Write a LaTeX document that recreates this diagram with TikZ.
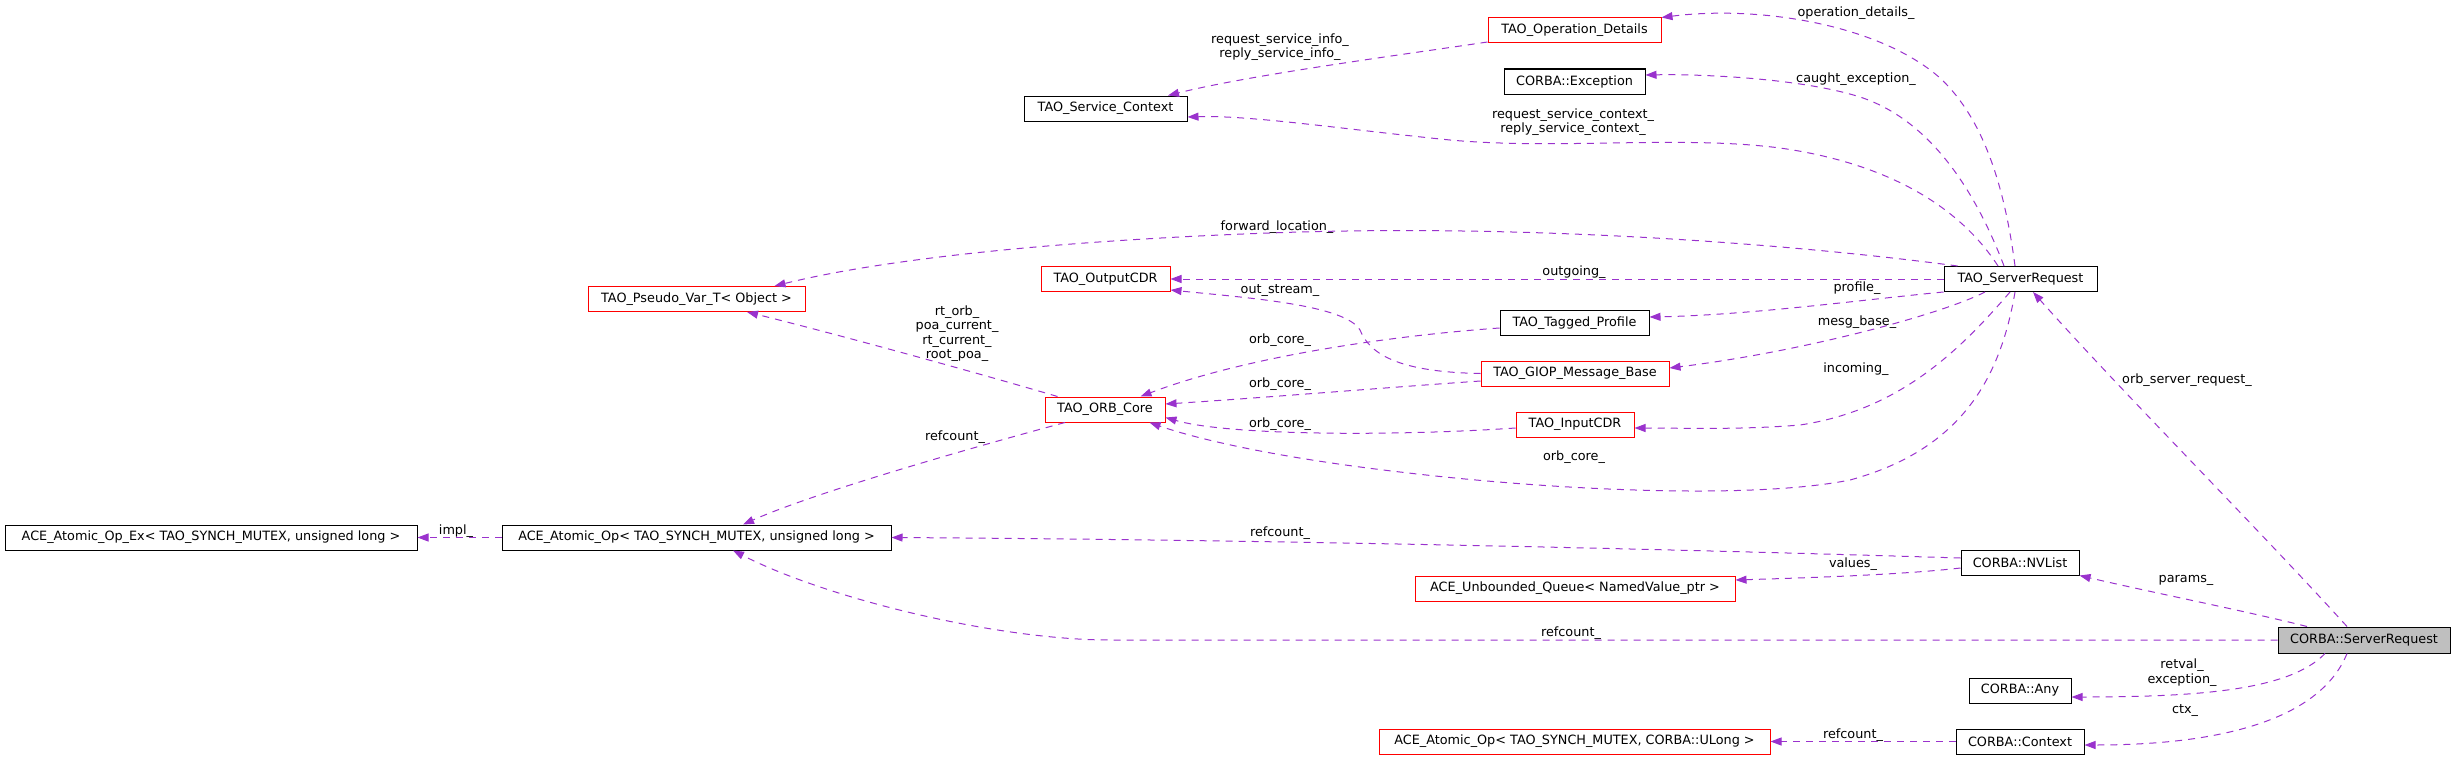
\documentclass[tikz,border=0pt]{standalone}
\usepackage{fontspec}
\setmainfont{DejaVu Sans}
\usetikzlibrary{arrows.meta}
\definecolor{edgec}{HTML}{9A32CD}
\definecolor{nodegray}{HTML}{BFBFBF}
\newcommand\dgfont{\fontsize{12.8}{14.4}\selectfont}
\begin{document}
\begin{tikzpicture}[x=1pt,y=-1pt,
  cls/.style={draw=black, line width=1pt, inner sep=0pt, minimum height=25pt, font=\dgfont},
  redcls/.style={cls, draw=red},
  rootcls/.style={cls, fill=nodegray, minimum height=26pt},
  edge/.style={draw=edgec, line width=1pt, dash pattern=on 7pt off 6pt,
    -{Triangle[length=11pt,width=8pt,fill=edgec]}},
  lab/.style={font=\dgfont, align=center, inner sep=0pt}]
\useasboundingbox (0,0) rectangle (2456,760);

% ---- nodes ----
\node[redcls, minimum width=173pt] (opdet) at (1574.5,30.5) {TAO\_Operation\_Details};
\node[cls, minimum width=141pt] (exc) at (1574.5,81.5) {CORBA::Exception};
\node[cls, minimum width=163pt] (svc) at (1105.5,108.5) {TAO\_Service\_Context};
\node[redcls, minimum width=217pt] (pseudo) at (696.5,299) {TAO\_Pseudo\_Var\_T< Object >};
\node[redcls, minimum width=129pt] (out) at (1105.5,279) {TAO\_OutputCDR};
\node[redcls, minimum width=120pt] (orb) at (1105,409.5) {TAO\_ORB\_Core};
\node[cls, minimum width=153pt] (tsr) at (2020.5,279) {TAO\_ServerRequest};
\node[cls, minimum width=149pt] (tag) at (1574.5,323) {TAO\_Tagged\_Profile};
\node[redcls, minimum width=188pt] (giop) at (1575,373.5) {TAO\_GIOP\_Message\_Base};
\node[redcls, minimum width=118pt] (in) at (1575,424.5) {TAO\_InputCDR};
\node[cls, minimum width=412pt] (aoex) at (211,537.5) {ACE\_Atomic\_Op\_Ex< TAO\_SYNCH\_MUTEX, unsigned long >};
\node[cls, minimum width=389pt] (ao) at (696.5,537.5) {ACE\_Atomic\_Op< TAO\_SYNCH\_MUTEX, unsigned long >};
\node[cls, minimum width=118pt] (nvl) at (2020,562.5) {CORBA::NVList};
\node[redcls, minimum width=320pt] (uq) at (1575,588.5) {ACE\_Unbounded\_Queue< NamedValue\_ptr >};
\node[rootcls, minimum width=172pt] (csr) at (2364,640) {CORBA::ServerRequest};
\node[cls, minimum width=102pt] (any) at (2020,690.5) {CORBA::Any};
\node[cls, minimum width=128pt] (ctx) at (2020,741.5) {CORBA::Context};
\node[redcls, minimum width=391pt] (aoul) at (1574.5,741.5) {ACE\_Atomic\_Op< TAO\_SYNCH\_MUTEX, CORBA::ULong >};

% ---- edges ----
% operation_details_
\draw[edge] ([xshift=-5.5pt]tsr.north) .. controls (2005,190) and (1985,120) .. (1940,78)
  .. controls (1880,25) and (1760,5) .. (opdet.north east);
\node[lab] (l1) at (1856,13) {operation\_details\_};
% caught_exception_
\draw[edge] ([xshift=-16.5pt]tsr.north) .. controls (1975,190) and (1930,120) .. (1860,97)
  .. controls (1800,78) and (1700,74) .. ([yshift=6.5pt]exc.east);
\node[lab] (l2) at (1856,79) {caught\_exception\_};
% request_service_context_
\draw[edge] ([xshift=-22.5pt]tsr.north) .. controls (1965,215) and (1900,165) .. (1780,148)
  .. controls (1680,135) and (1560,150) .. (1450,140)
  .. controls (1350,130) and (1250,115) .. ([yshift=-8.5pt]svc.east);
\node[lab] (l3) at (1573,122) {request\_service\_context\_\\reply\_service\_context\_};
% request_service_info_
\draw[edge] ([yshift=-11.5pt]opdet.west) .. controls (1400,55) and (1250,75) .. ([xshift=-19.5pt]svc.north east);
\node[lab] (l4) at (1280,47) {request\_service\_info\_\\reply\_service\_info\_};
% forward_location_
\draw[edge] ([xshift=14pt]tsr.north west) .. controls (1800,245) and (1550,225) .. (1300,232)
  .. controls (1100,238) and (900,255) .. ([xshift=-31pt]pseudo.north east);
\node[lab] (l5) at (1277,227) {forward\_location\_};
% outgoing_
\draw[edge] (tsr.west) -- (out.east);
\node[lab] (l6) at (1574,272) {outgoing\_};
% out_stream_
\draw[edge] (giop.west) .. controls (1400,372) and (1370,355) .. (1360,330)
  .. controls (1345,305) and (1250,298) .. ([yshift=-11pt]out.east);
\node[lab] (l7) at (1280,291) {out\_stream\_};
% profile_
\draw[edge] (tsr.south west) .. controls (1860,300) and (1750,315) .. ([yshift=6pt]tag.east);
\node[lab] (l8) at (1857,288) {profile\_};
% mesg_base_
\draw[edge] ([xshift=-35.5pt]tsr.south) .. controls (1940,315) and (1800,352) .. ([yshift=5.5pt]giop.east);
\node[lab] (l9) at (1857,322) {mesg\_base\_};
% incoming_ (tsr)
\draw[edge] ([xshift=-10.5pt]tsr.south) .. controls (1960,350) and (1900,410) .. (1800,425)
  .. controls (1740,430) and (1680,428) .. ([yshift=-3.5pt]in.east);
\node[lab] (l10) at (1856,369) {incoming\_};
% orb_core_ (tsr)
\draw[edge] ([xshift=-5.5pt]tsr.south) .. controls (2000,380) and (1960,450) .. (1850,480)
  .. controls (1750,500) and (1550,490) .. (1400,472)
  .. controls (1280,458) and (1200,440) .. ([xshift=-16pt]orb.south east);
\node[lab] (l11) at (1574,457) {orb\_core\_};
% orb_core_ (tag)
\draw[edge] ([yshift=-5pt]tag.west) .. controls (1400,335) and (1250,355) .. ([xshift=-25pt]orb.north east);
\node[lab] (l12) at (1280,340) {orb\_core\_};
% orb_core_ (giop)
\draw[edge] ([yshift=-7.5pt]giop.west) .. controls (1380,388) and (1260,398) .. ([yshift=5.5pt]orb.east);
\node[lab] (l13) at (1280,384) {orb\_core\_};
% orb_core_ (in)
\draw[edge] ([yshift=-3.5pt]in.west) .. controls (1400,436) and (1230,436) .. ([yshift=-8pt]orb.east);
\node[lab] (l14) at (1280,424) {orb\_core\_};
% rt_orb_ ...
\draw[edge] ([xshift=13pt]orb.north west) .. controls (950,365) and (820,330) .. ([xshift=50.5pt]pseudo.south);
\node[lab] (l15) at (957,333.5) {rt\_orb\_\\poa\_current\_\\rt\_current\_\\root\_poa\_};
% refcount_ (orb)
\draw[edge] ([xshift=-40pt]orb.south) .. controls (1000,440) and (820,490) .. ([xshift=46.5pt]ao.north);
\node[lab] (l16) at (955,437) {refcount\_};
% refcount_ (nvl)
\draw[edge] ([yshift=4.5pt]nvl.west) .. controls (1700,550) and (1300,540) .. (ao.east);
\node[lab] (l17) at (1280,533) {refcount\_};
% values_
\draw[edge] ([yshift=-5.5pt]nvl.west) .. controls (1900,575) and (1800,578) .. ([yshift=8.5pt]uq.east);
\node[lab] (l18) at (1853,564) {values\_};
% params_
\draw[edge] ([xshift=-57pt]csr.north) .. controls (2250,612) and (2150,592) .. (nvl.south east);
\node[lab] (l19) at (2186,580) {params\_};
% refcount_ (csr)
\draw[edge] (csr.west) -- (1110,640) .. controls (1000,640) and (830,600) .. ([xshift=36.5pt]ao.south);
\node[lab] (l20) at (1571,633) {refcount\_};
% retval_ exception_
\draw[edge] ([xshift=-39pt]csr.south) .. controls (2290,690) and (2200,697) .. ([yshift=-6.5pt]any.east);
\node[lab] (l21) at (2182,672.5) {retval\_\\exception\_};
% ctx_
\draw[edge] ([xshift=-17pt]csr.south) .. controls (2320,720) and (2220,745) .. ([yshift=-3.5pt]ctx.east);
\node[lab] (l22) at (2185,711) {ctx\_};
% refcount_ (ctx)
\draw[edge] (ctx.west) -- (aoul.east);
\node[lab] (l23) at (1853,735) {refcount\_};
% impl_
\draw[edge] (ao.west) -- (aoex.east);
\node[lab] (l24) at (456,531) {impl\_};
% orb_server_request_
\draw[edge] ([xshift=-17pt]csr.north) .. controls (2250,520) and (2120,390) .. ([xshift=12.5pt]tsr.south);
\node[lab] (l25) at (2187,380) {orb\_server\_request\_};
\end{tikzpicture}
\end{document}
